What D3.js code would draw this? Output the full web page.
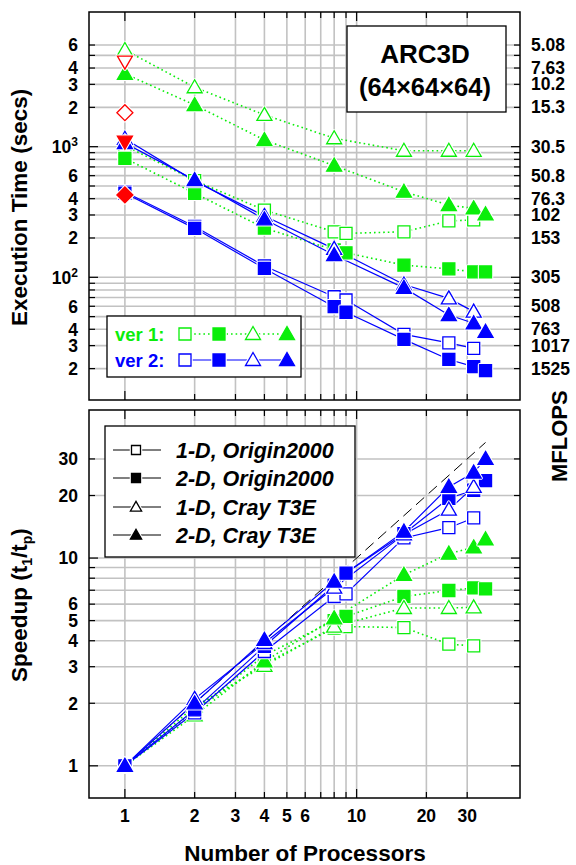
<!DOCTYPE html>
<html><head><meta charset="utf-8">
<script src="https://cdn.jsdelivr.net/npm/d3@7"></script>
<style>
body{margin:0;background:#fff}
text{font-family:"Liberation Sans",Arial,Helvetica,sans-serif;font-weight:bold;fill:#000}
</style>
</head><body>
<svg id="c" width="576" height="865"></svg>
<script>
// ---------- DATA ----------
const procs1DOrigin = [1,2,4,8,9,16,25,32];
const procs2DOrigin = [1,2,4,8,9,16,25,32,36];
const procs1DT3E    = [1,2,4,8,16,25,32];
const procs2DT3E    = [1,2,4,8,16,25,32,36];

// execution time (secs)
const timeV1_1DOrigin = [1020,550,327,223,217,223,270,275];
const timeV1_2DOrigin = [815,440,238,162,154,124,116,110,110];
const timeV1_1DT3E    = [5500,2850,1750,1160,931,931,930];
const timeV1_2DT3E    = [3610,2085,1125,716,452,357,337,303];
const timeV2_1DOrigin = [450,245,122,71,67,36.6,31.5,28.6];
const timeV2_2DOrigin = [440,237,117,59.6,54,33.5,23.5,20.7,19.3];
const timeV2_1DT3E    = [1150,545,295,165,88,69,54.6];
const timeV2_2DT3E    = [1065,556,278,148,83,51.4,44.5,38.3];

// serial reference runs at 1 processor (red)
const serialTimes  = [4477,1820,1092,427];
const serialShapes = ["dtri","dia","dtri","dia"];
const serialFilled = [false,false,true,true];

// speedup t1/tp
const speedV1_1DOrigin = [1,1.85,3.1,4.6,4.68,4.63,3.85,3.78];
const speedV1_2DOrigin = [1,1.85,3.4,5.0,5.24,6.53,6.98,7.18,7.1];
const speedV1_1DT3E    = [1,1.93,3.03,4.68,5.75,5.75,5.79];
const speedV1_2DT3E    = [1,1.75,3.18,5.13,8.3,10.5,11.25,12.3];
const speedV2_1DOrigin = [1,1.8,3.55,6.53,6.73,12.5,14.0,15.6];
const speedV2_2DOrigin = [1,1.86,3.76,7.4,8.47,13.1,19.4,21.2,23.6];
const speedV2_1DT3E    = [1,2.1,3.9,7.2,13.0,17.1,22.0];
const speedV2_2DT3E    = [1,2.0,4.04,7.71,13.4,22.0,25.8,30.0];

const idealProcs = [1,36];

// ticks
const xGrid = [1,2,3,4,5,6,7,8,9,10,20,30];
const xLabels = [1,2,3,4,5,6,10,20,30];
const timeGrid = [20,30,40,50,60,70,80,90,100,200,300,400,500,600,700,800,900,1000,2000,3000,4000,5000,6000];
const timeLabels = [20,30,40,60,100,200,300,400,600,1000,2000,3000,4000,6000];
const mflopsTimes  = [6000,4000,3000,2000,1000,600,400,300,200,100,60,40,30,20];
const mflopsLabels = ["5.08","7.63","10.2","15.3","30.5","50.8","76.3","102","153","305","508","763","1017","1525"];
const speedGrid = [1,2,3,4,5,6,7,8,9,10,20,30];
const speedLabels = [1,2,3,4,5,6,10,20,30];

const legendNames = ["1-D, Origin2000","2-D, Origin2000","1-D, Cray T3E","2-D, Cray T3E"];

// ---------- SETUP ----------
const GREEN = "#0aee0a", BLUE = "#0000ff", RED = "#ff0000", GRID = "#c2c2c2";
const svg = d3.select("#c");
const L = 89, R = 520, T1 = 12, B1 = 400, T2 = 410, B2 = 798;

const x  = d3.scaleLog().domain([0.7, 50.7]).range([L, R]);
const yT = d3.scaleLog().domain([11.5, 10740]).range([B1, T1]);
const yS = d3.scaleLog().domain([0.7, 51.6]).range([B2, T2]);

const shapes = ["sq","sq","tri","tri"];
const filledFlags = [false,true,false,true];
const procsList = [procs1DOrigin, procs2DOrigin, procs1DT3E, procs2DT3E];
const timesV = [[timeV1_1DOrigin,timeV1_2DOrigin,timeV1_1DT3E,timeV1_2DT3E],
                [timeV2_1DOrigin,timeV2_2DOrigin,timeV2_1DT3E,timeV2_2DT3E]];
const speedsV = [[speedV1_1DOrigin,speedV1_2DOrigin,speedV1_1DT3E,speedV1_2DT3E],
                 [speedV2_1DOrigin,speedV2_2DOrigin,speedV2_1DT3E,speedV2_2DT3E]];

function markerPath(shape, k) {
  k = k || 1;
  if (shape === "sq") { const h = 6*k; return `M${-h},${-h}h${2*h}v${2*h}h${-2*h}Z`; }
  if (shape === "tri") { const w = 7.5*k; return `M0,${-7.5*k}L${w},${5.5*k}L${-w},${5.5*k}Z`; }
  if (shape === "dtri") { const w = 7.5*k; return `M0,${7.5*k}L${w},${-5.5*k}L${-w},${-5.5*k}Z`; }
  if (shape === "dia") { const h = 8*k; return `M0,${-h}L${h},0L0,${h}L${-h},0Z`; }
}
function drawMarker(g, cx, cy, shape, filled, color, k, halo) {
  const p = markerPath(shape, k);
  if (halo !== false)
    g.append("path").attr("d", p).attr("transform", `translate(${cx},${cy})`)
      .attr("fill", "#fff").attr("stroke", "#fff").attr("stroke-width", 3.5).attr("stroke-linejoin","round");
  g.append("path").attr("d", p).attr("transform", `translate(${cx},${cy})`)
    .attr("fill", filled ? color : "#fff").attr("stroke", color).attr("stroke-width", 1.3);
}

function panelGrid(top, bottom, yScale, yGrid, majorSet) {
  const g = svg.append("g");
  xGrid.forEach(v => g.append("line").attr("x1", x(v)).attr("x2", x(v)).attr("y1", top).attr("y2", bottom)
    .attr("stroke", GRID).attr("stroke-width", 1.6));
  yGrid.forEach(v => g.append("line").attr("x1", L).attr("x2", R).attr("y1", yScale(v)).attr("y2", yScale(v))
    .attr("stroke", GRID).attr("stroke-width", 1.6));
  xGrid.forEach(v => {
    const len = (v === 1 || v === 10) ? 9 : 6;
    g.append("line").attr("x1", x(v)).attr("x2", x(v)).attr("y1", top).attr("y2", top + len).attr("stroke", "#000").attr("stroke-width", 1.2);
    g.append("line").attr("x1", x(v)).attr("x2", x(v)).attr("y1", bottom).attr("y2", bottom - len).attr("stroke", "#000").attr("stroke-width", 1.2);
  });
  yGrid.forEach(v => {
    const len = majorSet.includes(v) ? 9 : 6;
    g.append("line").attr("x1", L).attr("x2", L + len).attr("y1", yScale(v)).attr("y2", yScale(v)).attr("stroke", "#000").attr("stroke-width", 1.2);
    g.append("line").attr("x1", R).attr("x2", R - len).attr("y1", yScale(v)).attr("y2", yScale(v)).attr("stroke", "#000").attr("stroke-width", 1.2);
  });
}

// ---------- TOP PANEL ----------
panelGrid(T1, B1, yT, timeGrid, [100,1000]);
const topG = svg.append("g");
const lineT = (xs, ys) => d3.line().x((d,i) => x(xs[i])).y(d => yT(d))(ys);
[0,1].forEach(v => {
  for (let s = 0; s < 4; s++) {
    topG.append("path").attr("d", lineT(procsList[s], timesV[v][s])).attr("fill", "none")
      .attr("stroke", v === 0 ? GREEN : BLUE)
      .attr("stroke-width", v === 0 ? 1.6 : 1.2)
      .attr("stroke-dasharray", v === 0 ? "1.6,3" : null);
  }
});
[0,1].forEach(v => {
  for (let s = 0; s < 4; s++) {
    timesV[v][s].forEach((t, i) => drawMarker(topG, x(procsList[s][i]), yT(t), shapes[s], filledFlags[s], v === 0 ? GREEN : BLUE));
  }
});
serialTimes.forEach((t, i) => drawMarker(topG, x(1), yT(t), serialShapes[i], serialFilled[i], RED));

svg.append("rect").attr("x", L).attr("y", T1).attr("width", R - L).attr("height", B1 - T1)
  .attr("fill", "none").attr("stroke", "#000").attr("stroke-width", 1.5);

// left labels
timeLabels.forEach(v => {
  const tx = svg.append("text").attr("x", 78).attr("y", yT(v)).attr("dy", "0.36em")
    .attr("text-anchor", "end").attr("font-size", 17.5);
  if (v === 100 || v === 1000) {
    tx.append("tspan").text("10");
    tx.append("tspan").attr("font-size", 12).attr("dy", "-0.55em").text(v === 100 ? "2" : "3");
  } else {
    tx.text(String(v).charAt(0));
  }
});
// right MFLOPS labels
mflopsTimes.forEach((t, i) => {
  svg.append("text").attr("x", 531).attr("y", yT(t)).attr("dy", "0.34em")
    .attr("font-size", 17.5).text(mflopsLabels[i]);
});

// title box
svg.append("rect").attr("x", 347).attr("y", 26).attr("width", 159).attr("height", 86)
  .attr("fill", "#fff").attr("stroke", "#000").attr("stroke-width", 1.3);
svg.append("text").attr("x", 425).attr("y", 63).attr("text-anchor", "middle").attr("font-size", 26).text("ARC3D");
svg.append("text").attr("x", 425).attr("y", 96).attr("text-anchor", "middle").attr("font-size", 25.5).text("(64\u00d764\u00d764)");

// top legend
svg.append("rect").attr("x", 107).attr("y", 316).attr("width", 194).attr("height", 61)
  .attr("fill", "#fff").attr("stroke", "#000").attr("stroke-width", 1.3);
const legX = [185, 219, 253, 287];
[0,1].forEach(v => {
  const cy = v === 0 ? 334 : 360;
  const col = v === 0 ? GREEN : BLUE;
  svg.append("text").attr("x", 115).attr("y", cy).attr("dy", "0.36em").attr("font-size", 18.5)
    .style("fill", col).text(v === 0 ? "ver 1:" : "ver 2:");
  svg.append("line").attr("x1", legX[0]).attr("x2", legX[3]).attr("y1", cy).attr("y2", cy)
    .attr("stroke", col).attr("stroke-width", v === 0 ? 1.6 : 1.2).attr("stroke-dasharray", v === 0 ? "1.6,3" : null);
  for (let s = 0; s < 4; s++) drawMarker(svg, legX[s], cy, shapes[s], filledFlags[s], col);
});

// ---------- BOTTOM PANEL ----------
panelGrid(T2, B2, yS, speedGrid, [1,10]);
const botG = svg.append("g");
botG.append("path").attr("d", d3.line().x(d => x(d)).y(d => yS(d))(idealProcs))
  .attr("stroke", "#000").attr("stroke-width", 1).attr("stroke-dasharray", "11,6").attr("fill", "none");
const lineS = (xs, ys) => d3.line().x((d,i) => x(xs[i])).y(d => yS(d))(ys);
[0,1].forEach(v => {
  for (let s = 0; s < 4; s++) {
    botG.append("path").attr("d", lineS(procsList[s], speedsV[v][s])).attr("fill", "none")
      .attr("stroke", v === 0 ? GREEN : BLUE)
      .attr("stroke-width", v === 0 ? 1.6 : 1.2)
      .attr("stroke-dasharray", v === 0 ? "1.6,3" : null);
  }
});
[0,1].forEach(v => {
  for (let s = 0; s < 4; s++) {
    speedsV[v][s].forEach((sp, i) => drawMarker(botG, x(procsList[s][i]), yS(sp), shapes[s], filledFlags[s], v === 0 ? GREEN : BLUE));
  }
});
svg.append("rect").attr("x", L).attr("y", T2).attr("width", R - L).attr("height", B2 - T2)
  .attr("fill", "none").attr("stroke", "#000").attr("stroke-width", 1.5);

speedLabels.forEach(v => {
  svg.append("text").attr("x", 78).attr("y", yS(v)).attr("dy", "0.36em")
    .attr("text-anchor", "end").attr("font-size", 17.5).text(v);
});
xLabels.forEach(v => {
  svg.append("text").attr("x", x(v)).attr("y", 822).attr("text-anchor", "middle").attr("font-size", 17.5).text(v);
});

// bottom legend
svg.append("rect").attr("x", 105).attr("y", 426).attr("width", 250).attr("height", 131)
  .attr("fill", "#fff").attr("stroke", "#000").attr("stroke-width", 1.3);
const legY = [450, 478, 507, 535];
legendNames.forEach((name, i) => {
  svg.append("line").attr("x1", 113).attr("x2", 161).attr("y1", legY[i]).attr("y2", legY[i])
    .attr("stroke", "#000").attr("stroke-width", 1);
  drawMarker(svg, 136, legY[i], shapes[i], filledFlags[i], "#000", 0.75);
  svg.append("text").attr("x", 176).attr("y", legY[i]).attr("dy", "0.36em").attr("font-size", 21.5)
    .attr("font-style", "italic").text(name);
});

// axis titles
svg.append("text").attr("transform", "translate(27,326) rotate(-90)").attr("font-size", 22.5).text("Execution Time (secs)");
const sp = svg.append("text").attr("transform", "translate(27,682) rotate(-90)").attr("font-size", 22.5);
sp.append("tspan").text("Speedup (t");
sp.append("tspan").attr("font-size", 14).attr("dy", 5).text("1");
sp.append("tspan").attr("dy", -5).text("/t");
sp.append("tspan").attr("font-size", 14).attr("dy", 5).text("p");
sp.append("tspan").attr("dy", -5).text(")");
svg.append("text").attr("transform", "translate(567,482) rotate(-90)").attr("font-size", 22).text("MFLOPS");
svg.append("text").attr("x", 305).attr("y", 861).attr("text-anchor", "middle").attr("font-size", 22.5).text("Number of Processors");
</script>
</body></html>
